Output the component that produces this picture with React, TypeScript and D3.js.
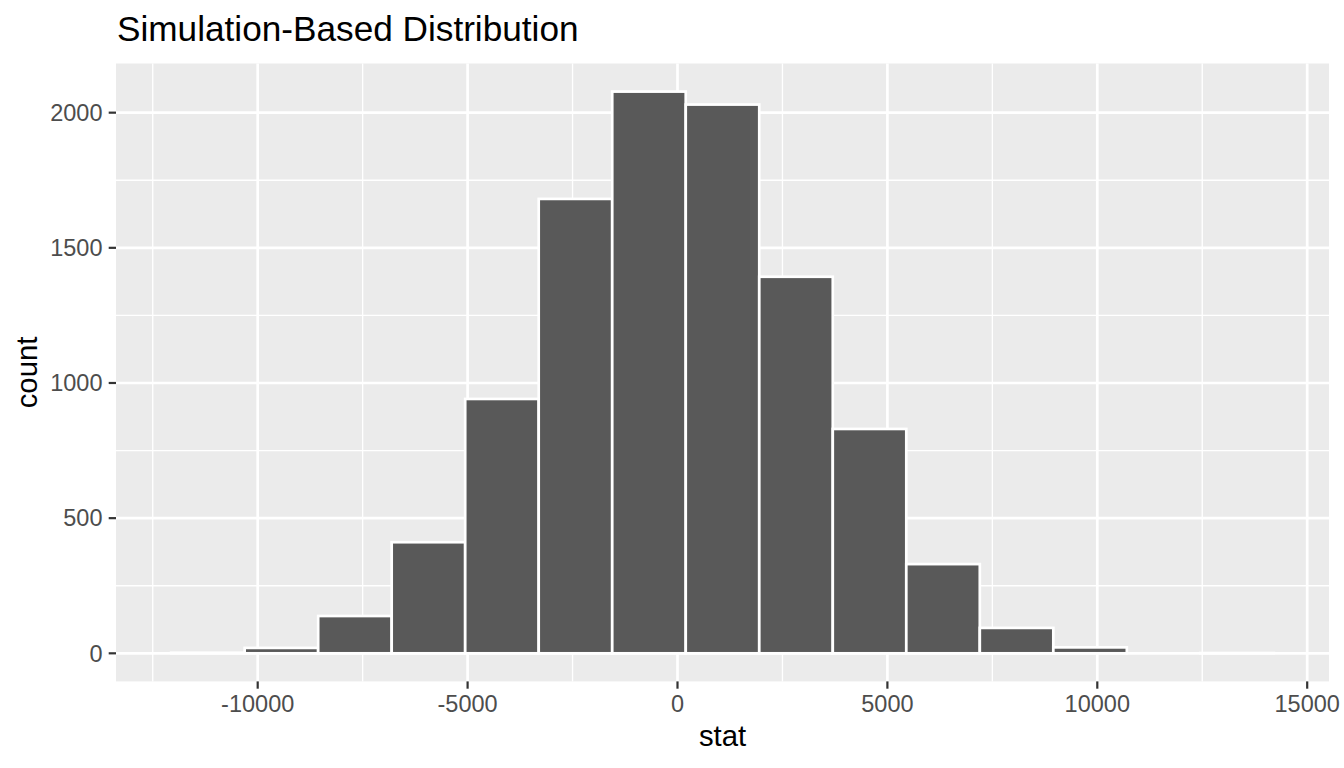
import React from "react";
import * as d3 from "d3";

// Histogram data
const binStart = -12062;
const binWidth = 1751.2;
const counts = [2, 20, 138, 411, 941, 1681, 2078, 2030, 1393, 830, 330, 94, 22, 0, 1];
const xTicks = [-10000, -5000, 0, 5000, 10000, 15000];
const xMinor = [-12500, -7500, -2500, 2500, 7500, 12500];
const yTicks = [0, 500, 1000, 1500, 2000];
const yMinor = [250, 750, 1250, 1750];
const title = "Simulation-Based Distribution";
const xLabel = "stat";
const yLabel = "count";

const W = 1344;
const H = 768;
const panel = { left: 116, right: 1329, top: 63.5, bottom: 681.4 };
const font = "'Liberation Sans', Arial, Helvetica, sans-serif";

export default function App() {
  const bins = counts.map((c, i) => ({
    x0: binStart + i * binWidth,
    x1: binStart + (i + 1) * binWidth,
    count: c,
  }));
  const xMin = bins[0].x0;
  const xMax = bins[bins.length - 1].x1;
  const xPad = (xMax - xMin) * 0.05;
  const yMax = d3.max(counts) as number;
  const yPad = yMax * 0.05;

  const x = d3
    .scaleLinear()
    .domain([xMin - xPad, xMax + xPad])
    .range([panel.left, panel.right]);
  const y = d3
    .scaleLinear()
    .domain([0 - yPad, yMax + yPad])
    .range([panel.bottom, panel.top]);

  const gridMajor = 2.7;
  const gridMinor = 1.35;

  return (
    <svg
      width={W}
      height={H}
      viewBox={`0 0 ${W} ${H}`}
      style={{ position: "absolute", left: 0, top: 0, background: "#fff" }}
      fontFamily={font}
    >
      <rect x={0} y={0} width={W} height={H} fill="#ffffff" />
      <rect
        x={panel.left}
        y={panel.top}
        width={panel.right - panel.left}
        height={panel.bottom - panel.top}
        fill="#EBEBEB"
      />
      {/* minor grid */}
      {xMinor.map((v) => (
        <line key={"xm" + v} x1={x(v)} x2={x(v)} y1={panel.top} y2={panel.bottom} stroke="#fff" strokeWidth={gridMinor} />
      ))}
      {yMinor.map((v) => (
        <line key={"ym" + v} x1={panel.left} x2={panel.right} y1={y(v)} y2={y(v)} stroke="#fff" strokeWidth={gridMinor} />
      ))}
      {/* major grid */}
      {xTicks.map((v) => (
        <line key={"xM" + v} x1={x(v)} x2={x(v)} y1={panel.top} y2={panel.bottom} stroke="#fff" strokeWidth={gridMajor} />
      ))}
      {yTicks.map((v) => (
        <line key={"yM" + v} x1={panel.left} x2={panel.right} y1={y(v)} y2={y(v)} stroke="#fff" strokeWidth={gridMajor} />
      ))}
      {/* bars */}
      {bins.map((b, i) => (
        <rect
          key={"b" + i}
          x={x(b.x0)}
          y={y(b.count)}
          width={x(b.x1) - x(b.x0)}
          height={y(0) - y(b.count)}
          fill="#595959"
          stroke="#ffffff"
          strokeWidth={2.7}
        />
      ))}
      {/* x axis ticks */}
      {xTicks.map((v) => (
        <g key={"xt" + v}>
          <line x1={x(v)} x2={x(v)} y1={panel.bottom} y2={panel.bottom + 7.3} stroke="#333333" strokeWidth={2.2} />
          <text x={x(v)} y={712} textAnchor="middle" fontSize={23.5} fill="#4D4D4D">
            {v}
          </text>
        </g>
      ))}
      {/* y axis ticks */}
      {yTicks.map((v) => (
        <g key={"yt" + v}>
          <line x1={panel.left - 7.3} x2={panel.left} y1={y(v)} y2={y(v)} stroke="#333333" strokeWidth={2.2} />
          <text x={102.5} y={y(v)} dy="0.35em" textAnchor="end" fontSize={23.5} fill="#4D4D4D">
            {v}
          </text>
        </g>
      ))}
      {/* axis titles */}
      <text x={(panel.left + panel.right) / 2} y={746} textAnchor="middle" fontSize={29.3} fill="#000">
        {xLabel}
      </text>
      <text
        transform={`translate(37, ${(panel.top + panel.bottom) / 2}) rotate(-90)`}
        textAnchor="middle"
        fontSize={29.3}
        fill="#000"
      >
        {yLabel}
      </text>
      <text x={117} y={41} fontSize={35.2} fill="#000">
        {title}
      </text>
    </svg>
  );
}
